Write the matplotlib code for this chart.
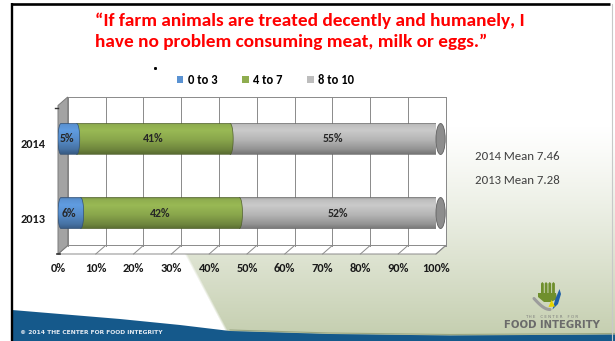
import numpy as np
import matplotlib
matplotlib.use('Agg')
import matplotlib.pyplot as plt
from matplotlib.patches import Polygon, Ellipse, PathPatch, Patch
from matplotlib.path import Path
from matplotlib.colors import to_rgb

plt.rcParams['font.family'] = ['Carlito', 'DejaVu Sans']

# ====================================
# Survey data
# ====================================
years       = ['2013', '2014']
groups      = ['0 to 3', '4 to 7', '8 to 10']
pct_0_3     = [6, 5]
pct_4_7     = [42, 41]
pct_8_10    = [52, 55]
mean_years  = ['2014', '2013']
mean_scores = [7.46, 7.28]
x_ticks     = np.arange(0, 101, 10)

title_lines = ['\u201cIf farm animals are treated decently and humanely, I',
               'have no problem consuming meat, milk or eggs.\u201d']

colors = ['#5a92d2', '#8fad4f', '#bdbdbd']

# ====================================
# Slide canvas (pixel based)
# ====================================
W, H = 615, 341
fig = plt.figure(figsize=(W/100, H/100), dpi=100)

bg = fig.add_axes([0, 0, 1, 1], zorder=-10)
bg.set_xlim(0, W)
bg.set_ylim(H, 0)
bg.axis('off')

# green haze to the right of the diagonal
yy, xx = np.mgrid[0:H, 0:W] + 0.5
alpha = np.clip((yy - 125) / 215.0, 0, 1) ** 1.2
edge = np.clip((xx - (133 + 0.53*(yy - 157))) / 3.0, 0, 1)
haze = np.zeros((H, W, 4))
haze[..., :3] = to_rgb('#c3cdad')
haze[..., 3] = alpha * edge
bg.imshow(haze, extent=(0, W, H, 0), interpolation='bilinear', zorder=0)

# blue footer band
band_x = np.array([12, 60, 120, 180, 230, 330, 450, 615])
band_y = np.array([310, 314, 319, 325, 331, 334, 335.5, 334.5])
bg.add_patch(Polygon(np.column_stack([np.r_[band_x, 615, 12], np.r_[band_y, H, H]]),
                     closed=True, facecolor='#15598b', edgecolor='none', zorder=2))
bg.plot(band_x[4:], band_y[4:] - 1, color='#9aa682', lw=0.8, zorder=2)
bg.text(20, 332.5, '\u00a9 2014 THE CENTER FOR FOOD INTEGRITY', fontsize=4.3,
        family='DejaVu Sans', fontweight='bold', color='#e3eaf2',
        va='center', ha='left', zorder=3)

# slide frame
bg.plot([12, 12], [3, H], color='black', lw=1.7, solid_capstyle='butt', zorder=4)
bg.plot([11, 610], [4, 4], color='black', lw=1.9, solid_capstyle='butt', zorder=4)
bg.plot([612, 612], [4, H], color='#c8c8c8', lw=0.8, zorder=4)
bg.plot([155], [68], marker='s', ms=1.1, color='black', zorder=4)

# logo
for fx in [541.0, 544.7, 548.4, 552.1]:
    bg.add_patch(Polygon([[fx, 296], [fx, 283.5], [fx + 1.3, 282], [fx + 2.8, 283.5], [fx + 2.8, 296]],
                         closed=True, facecolor='#6f8f2d', edgecolor='none', zorder=3))
bg.add_patch(Polygon([[538, 293], [556, 293], [557, 299], [551, 302], [544, 302], [538, 297]],
                     closed=True, facecolor='#6f8f2d', edgecolor='none', zorder=3))
t = np.linspace(0, 1, 20)
bg.plot(534 + 16*t, 298.5 + 11*np.sin(t*np.pi/2), color='#9c9c9c', lw=2.2,
        solid_capstyle='round', zorder=3)
bg.add_patch(Polygon([[559.5, 289], [561, 294], [558, 304], [552.5, 309.5], [555, 300]],
                     closed=True, facecolor='#1f5fa8', edgecolor='none', zorder=3))
bg.add_patch(Polygon([[551.5, 300], [555, 306.5], [548.5, 307]],
                     closed=True, facecolor='#e4d200', edgecolor='none', zorder=3))
bg.text(552, 317, 'T H E    C E N T E R    F O R', fontsize=2.9, color='#7c7c7c',
        family='DejaVu Sans', ha='center', va='center', zorder=3)
bg.text(552, 324.5, 'FOOD INTEGRITY', fontsize=7.3, color='#6b6b6b', fontweight='bold',
        family='DejaVu Sans', ha='center', va='center', zorder=3)

# ====================================
# Title, legend, means
# ====================================
fig.text(95/W, 1 - 26/H, title_lines[0], color='#ff0000', fontsize=13.9,
         fontweight='bold', ha='left', va='baseline')
fig.text(95/W, 1 - 47.5/H, title_lines[1], color='#ff0000', fontsize=13.9,
         fontweight='bold', ha='left', va='baseline')

handles = [Patch(facecolor=c, edgecolor='none') for c in colors]
fig.legend(handles, groups, ncol=3, loc='center left', bbox_to_anchor=(177/W, 1 - 80/H),
           frameon=False, handlelength=0.5, handleheight=0.5, handletextpad=0.35,
           columnspacing=2.0, borderpad=0, borderaxespad=0,
           prop={'size': 9, 'weight': 'bold'})

for k, (yr, m) in enumerate(zip(mean_years, mean_scores)):
    fig.text(475/W, 1 - (157 + 23*k)/H, '{} Mean {:.2f}'.format(yr, m), fontsize=9.2,
             color='#404040', ha='left', va='center')

# ====================================
# 3-D style stacked bar chart
# ====================================
PX_L, PX_R, PX_TOP, PX_BOT = 58, 436, 105.5, 254
Y_LO, Y_HI = -0.486, 1.52
ax = fig.add_axes([PX_L/W, 1 - PX_BOT/H, (PX_R - PX_L)/W, (PX_BOT - PX_TOP)/H])
ax.patch.set_visible(False)
for s in ax.spines.values():
    s.set_visible(False)

sx = (PX_R - PX_L) / 100.0          # px per percent
sy = (PX_BOT - PX_TOP) / (Y_HI - Y_LO)
DX, DY = 9.7/sx, 8.5/sy             # wall depth
RB, RL, RF = 3.0/sx, 3.0/sx, 4.6/sx # cap radii
bar_h = 31/sy
lift = 5.0/sy

grid_c = '#8a8a8a'
# back wall
ax.add_patch(Polygon([[DX, Y_LO + DY], [DX, Y_HI + DY], [100 + DX, Y_HI + DY], [100 + DX, Y_LO + DY]],
                     closed=True, facecolor='white', edgecolor=grid_c, lw=0.7, zorder=1, clip_on=False))
for xt in x_ticks:
    ax.plot([xt + DX, xt + DX], [Y_LO + DY, Y_HI + DY], color=grid_c, lw=0.7, zorder=1.2, clip_on=False)
# floor
ax.add_patch(Polygon([[0, Y_LO], [DX, Y_LO + DY], [100 + DX, Y_LO + DY], [100, Y_LO]],
                     closed=True, facecolor='white', edgecolor=grid_c, lw=0.7, zorder=1.1, clip_on=False))
for xt in x_ticks:
    ax.plot([xt, xt + DX], [Y_LO, Y_LO + DY], color=grid_c, lw=0.7, zorder=1.2, clip_on=False)
# side wall
ax.add_patch(Polygon([[0, Y_LO], [0, Y_HI], [DX, Y_HI + DY], [DX, Y_LO + DY]],
                     closed=True, facecolor='#a3a3a3', edgecolor='#7a7a7a', lw=0.7, zorder=1.3, clip_on=False))
ax.plot([-0.9, 0], [Y_HI - 0.04, Y_HI - 0.04], color='#333333', lw=1.0, zorder=1.4, clip_on=False)
ax.plot([-0.3, 0.4], [Y_LO, Y_LO], color='#333333', lw=1.2, zorder=1.4, clip_on=False)


def shade(color, n=64):
    rgb = np.array(to_rgb(color))
    tt = np.linspace(0, 1, n)
    f = np.interp(tt, [0, .07, .25, .55, .85, 1], [.80, 1.0, 1.07, .96, .78, .62])
    return np.clip(rgb[None, :] * f[:, None], 0, 1)[:, None, :]


def segment(x0, x1, yc, left_r, right_r, color, z):
    th = np.linspace(np.pi/2, -np.pi/2, 30)
    right = np.column_stack([x1 + right_r*np.cos(th), yc + bar_h/2*np.sin(th)])
    th2 = np.linspace(-np.pi/2, -3*np.pi/2, 30)
    left = np.column_stack([x0 + left_r*np.cos(th2), yc + bar_h/2*np.sin(th2)])
    verts = np.vstack([right, left, right[:1]])
    patch = PathPatch(Path(verts), facecolor='none',
                      edgecolor=np.array(to_rgb(color))*0.55, lw=0.5, zorder=z + 0.1)
    ax.add_patch(patch)
    im = ax.imshow(shade(color), extent=(x0 - left_r, x1 + right_r, yc - bar_h/2, yc + bar_h/2),
                   origin='upper', aspect='auto', interpolation='bilinear', zorder=z)
    im.set_clip_path(patch)


for i, yr in enumerate(years):
    vals = np.array([pct_0_3[i], pct_4_7[i], pct_8_10[i]], dtype=float)
    bounds = np.r_[0, np.cumsum(vals)] / vals.sum() * 100
    yc = i + lift
    # back to front so each segment's rounded end overlaps the next one
    segment(bounds[2], 100 + RF, yc, 0, RF, colors[2], 3)
    ax.add_patch(Ellipse((100 + RF, yc), 2*RF, bar_h, facecolor='#8d8d8d',
                         edgecolor='#5e5e5e', lw=0.6, zorder=3.5, clip_on=False))
    segment(bounds[1], bounds[2], yc, 0, RB, colors[1], 4)
    segment(RL, bounds[1], yc, RL, RB, colors[0], 5)
    for k in range(3):
        ax.text((bounds[k] + bounds[k + 1])/2, yc, '{:d}%'.format(int(vals[k])),
                ha='center', va='center', fontsize=8.6, fontweight='bold',
                color='#262626', zorder=7)

ax.set_xlim(0, 100)
ax.set_ylim(Y_LO, Y_HI)
ax.set_xticks(x_ticks, labels=['{}%'.format(v) for v in x_ticks])
ax.set_yticks(range(len(years)), labels=years)
ax.tick_params(axis='both', length=0, labelsize=8.9, labelcolor='#1a1a1a')
ax.tick_params(axis='x', pad=6.3)
ax.tick_params(axis='y', pad=8.6)
for lab in ax.get_xticklabels() + ax.get_yticklabels():
    lab.set_fontweight('bold')

fig.savefig('out.png', dpi=100)
